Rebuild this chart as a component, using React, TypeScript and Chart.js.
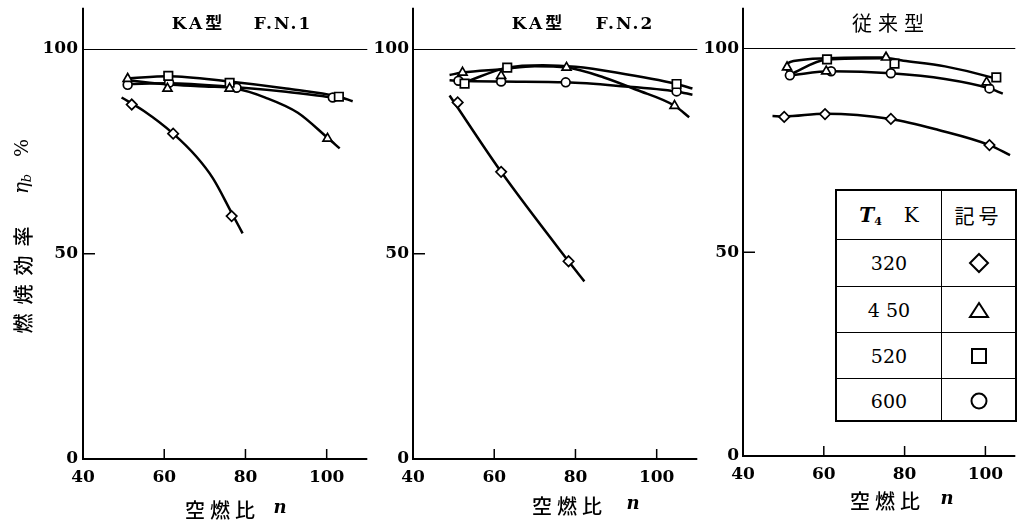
import React, { useEffect, useRef } from 'react';
import { Chart, registerables } from 'chart.js';

Chart.register(...registerables);

// ---------- axis ticks / labels ----------
const xTickValues = [40, 60, 80, 100];
const yTickValues = [0, 50, 100];
const temperatureLabels = ['320', '4 50', '520', '600'];
const symbolKinds = ['diamond', 'triangle', 'square', 'circle'];

// ---------- KA型 F.N.1 : measured points ----------
const fn1_320_n = [52, 62.2, 76.6];
const fn1_320_eta = [86.4, 79.3, 59.2];
const fn1_450_n = [51, 60.8, 76.1, 100.2];
const fn1_450_eta = [92.7, 90.3, 90.3, 78.1];
const fn1_520_n = [61, 76.1, 103];
const fn1_520_eta = [93.4, 91.7, 88.3];
const fn1_600_n = [51, 61.2, 77.8, 101.5];
const fn1_600_eta = [91.2, 91.7, 90.5, 88.1];
// faired curves
const fn1c_320_n = [49.5, 55, 62.2, 68, 72, 76.6, 79.3];
const fn1c_320_eta = [88.1, 84.8, 79.3, 73.6, 68.4, 60, 55];
const fn1c_450_n = [51, 61, 70, 77.6, 84.9, 92.9, 100.2, 103.2];
const fn1c_450_eta = [92.3, 91.3, 90.8, 90.3, 88.1, 84.4, 78.3, 75.7];
const fn1c_520_n = [51, 61, 76, 90, 103, 106.4];
const fn1c_520_eta = [92.8, 93.3, 92, 90.3, 88.3, 87.2];
const fn1c_600_n = [51, 61.2, 77.8, 90, 101.5];
const fn1c_600_eta = [91.4, 91.6, 90.6, 89.5, 88.1];

// ---------- KA型 F.N.2 : measured points ----------
const fn2_320_n = [51, 61.7, 78.3];
const fn2_320_eta = [86.9, 70, 48.2];
const fn2_450_n = [52.2, 61.7, 77.8, 104.4];
const fn2_450_eta = [94.2, 93.4, 95.4, 86.1];
const fn2_520_n = [52.7, 63.2, 104.9];
const fn2_520_eta = [91.5, 95.4, 91.4];
const fn2_600_n = [51.2, 61.7, 77.6, 104.9];
const fn2_600_eta = [92.2, 92, 91.8, 89.6];
// faired curves
const fn2c_320_n = [49, 61.7, 78.3, 82.2];
const fn2c_320_eta = [88.6, 70, 48.2, 43.3];
const fn2c_450_n = [49, 52.2, 61.7, 70, 77.8, 87, 95, 104.4, 108];
const fn2c_450_eta = [93.6, 94.2, 95, 95.7, 95.4, 93, 90, 86.1, 83.3];
const fn2c_520_n = [52.7, 63.2, 72, 80, 90, 104.9, 108.8];
const fn2c_520_eta = [91.8, 95.4, 96, 95.6, 94.2, 91.4, 90.3];
const fn2c_600_n = [49, 51.2, 61.7, 77.6, 90, 104.9, 108.8];
const fn2c_600_eta = [92.3, 92.2, 92, 91.8, 91, 89.6, 88.8];

// ---------- 従来型 : measured points ----------
const cv_320_n = [50.2, 60.3, 76.6, 101];
const cv_320_eta = [83.2, 83.9, 82.7, 76.3];
const cv_450_n = [50.9, 60.6, 75.4, 100.3];
const cv_450_eta = [95.4, 94.4, 97.8, 91.7];
const cv_520_n = [60.8, 77.5, 102.7];
const cv_520_eta = [97.3, 96.3, 92.9];
const cv_600_n = [51.6, 61.8, 76.6, 101];
const cv_600_eta = [93.4, 94.4, 93.9, 90.2];
// faired curves
const cvc_320_n = [47.3, 50.2, 60.3, 76.6, 88.4, 101, 106.1];
const cvc_320_eta = [83.4, 83.3, 84, 82.7, 80, 76.3, 73.8];
const cvc_450_n = [51.6, 50.6, 52.5, 60.8, 75.4];
const cvc_450_eta = [93.4, 95.6, 96.9, 97.6, 97.8];
const cvc_520_n = [51.6, 60.8, 75.4, 79.7, 90, 101.5, 102.7];
const cvc_520_eta = [93.6, 97.3, 97.6, 97, 95.6, 92.9, 92.5];
const cvc_600_n = [51.6, 61.8, 76.6, 90, 101, 104.3];
const cvc_600_eta = [93.4, 94.4, 93.9, 92.5, 90.2, 88.9];

// ---------- helpers ----------
const SERIF = '"DejaVu Serif", "Liberation Serif", "Noto Sans CJK JP", serif';
const CJK = '"Noto Sans CJK JP", "Noto Sans CJK SC", sans-serif';

const pts = (ns: number[], es: number[]) => ns.map((x, i) => ({ x, y: es[i] }));

const markerStyle: Record<string, { style: any; r: number }> = {
  '320': { style: 'rectRot', r: 5.2 },
  '450': { style: 'triangle', r: 5.2 },
  '520': { style: 'rect', r: 6 },
  '600': { style: 'circle', r: 4.4 },
};

function markerSet(key: string, ns: number[], es: number[]) {
  const m = markerStyle[key];
  return {
    label: key,
    data: pts(ns, es),
    showLine: false,
    pointStyle: m.style,
    pointRadius: m.r,
    pointBackgroundColor: '#fff',
    pointBorderColor: '#000',
    pointBorderWidth: 1.7,
    order: 0,
  };
}

function curveSet(ns: number[], es: number[], loop = false) {
  return {
    data: pts(ns, es),
    showLine: true,
    borderColor: '#000',
    borderWidth: 2.5,
    pointRadius: 0,
    tension: loop ? 0.4 : 0,
    cubicInterpolationMode: loop ? 'default' : 'monotone',
    fill: false,
    order: 1,
  };
}

type PanelCfg = {
  key: string;
  left: number;
  width: number;
  yAxisWidth: number;
  padRight: number;
  padTop: number;
  xAxisHeight: number;
  xMax: number;
  yLabelPad: number;
  title: { text: string; dx: number; size: number; spacing: number; font: string }[];
  titleY: number;
  xTitleDx: number;
  nDx: number;
  xTitleY: number;
  showYTitle: boolean;
  datasets: any[];
};

function makeDecor(cfg: PanelCfg) {
  return {
    id: 'panelDecor_' + cfg.key,
    beforeDatasetsDraw(chart: any) {
      const { ctx, chartArea: a, scales } = chart;
      const x = scales.x;
      const y = scales.y;
      ctx.save();
      ctx.strokeStyle = '#000';
      // 100 % reference line
      ctx.lineWidth = 1.2;
      const y100 = Math.round(y.getPixelForValue(100)) + 0.5;
      ctx.beginPath();
      ctx.moveTo(a.left, y100);
      ctx.lineTo(a.right, y100);
      ctx.stroke();
      // axes
      ctx.lineWidth = 2;
      ctx.beginPath();
      ctx.moveTo(a.left, a.top);
      ctx.lineTo(a.left, a.bottom);
      ctx.lineTo(a.right, a.bottom);
      ctx.stroke();
      // inward ticks
      ctx.lineWidth = 1.5;
      ctx.beginPath();
      const y50 = y.getPixelForValue(50);
      ctx.moveTo(a.left, y50);
      ctx.lineTo(a.left + 12, y50);
      for (const v of xTickValues) {
        if (v <= 40) continue;
        const px = x.getPixelForValue(v);
        ctx.moveTo(px, a.bottom);
        ctx.lineTo(px, a.bottom - 10);
      }
      ctx.stroke();
      ctx.restore();
    },
    afterDraw(chart: any) {
      const { ctx, chartArea: a } = chart;
      ctx.save();
      ctx.fillStyle = '#000';
      ctx.textAlign = 'center';
      ctx.textBaseline = 'middle';
      // panel title
      for (const t of cfg.title) {
        ctx.font = `${t.size}px ${t.font}`;
        (ctx as any).letterSpacing = `${t.spacing}px`;
        ctx.fillText(t.text, a.left + t.dx + t.spacing / 2, cfg.titleY);
      }
      // x-axis title
      ctx.font = `500 20px ${CJK}`;
      (ctx as any).letterSpacing = '5px';
      ctx.fillText('空燃比', a.left + cfg.xTitleDx + 2.5, cfg.xTitleY);
      (ctx as any).letterSpacing = '0px';
      ctx.font = `italic bold 18px ${SERIF}`;
      ctx.fillText('n', a.left + cfg.nDx, cfg.xTitleY - 2);
      // y-axis title
      if (cfg.showYTitle) {
        const cx = 23;
        const drawRot = (fn: () => void, cy: number) => {
          ctx.save();
          ctx.translate(cx, cy);
          ctx.rotate(-Math.PI / 2);
          fn();
          ctx.restore();
        };
        drawRot(() => {
          ctx.font = `500 20px ${CJK}`;
          (ctx as any).letterSpacing = '9px';
          ctx.fillText('燃焼効率', 4.5, 0);
          (ctx as any).letterSpacing = '0px';
        }, 280);
        drawRot(() => {
          ctx.font = `italic 20px ${SERIF}`;
          ctx.fillText('η', -4, 0);
          ctx.font = `italic 13px ${SERIF}`;
          ctx.fillText('b', 6, 5);
        }, 184);
        drawRot(() => {
          ctx.font = `19px ${SERIF}`;
          ctx.fillText('%', 0, 0);
        }, 148);
      }
      ctx.restore();
    },
  };
}

function Panel({ cfg }: { cfg: PanelCfg }) {
  const ref = useRef<HTMLCanvasElement>(null);
  useEffect(() => {
    if (!ref.current) return;
    const tickFont = { family: SERIF, size: 17, weight: 'bold' };
    const chart = new Chart(ref.current, {
      type: 'scatter',
      data: { datasets: cfg.datasets },
      options: {
        responsive: false,
        animation: false,
        devicePixelRatio: 1,
        layout: { padding: { left: 0, right: cfg.padRight, top: cfg.padTop, bottom: 0 } },
        plugins: { legend: { display: false }, tooltip: { enabled: false }, title: { display: false } },
        scales: {
          x: {
            type: 'linear',
            position: 'bottom',
            min: 40,
            max: cfg.xMax,
            afterBuildTicks: (s: any) => {
              s.ticks = xTickValues.map((v) => ({ value: v }));
            },
            afterFit: (s: any) => {
              s.height = cfg.xAxisHeight;
              s.paddingLeft = 0;
              s.paddingRight = 0;
            },
            grid: { display: false, drawTicks: false },
            border: { display: false },
            ticks: { font: tickFont, color: '#000', padding: 8, maxRotation: 0, autoSkip: false },
          },
          y: {
            type: 'linear',
            position: 'left',
            min: 0,
            max: 110,
            afterBuildTicks: (s: any) => {
              s.ticks = yTickValues.map((v) => ({ value: v }));
            },
            afterFit: (s: any) => {
              s.width = cfg.yAxisWidth;
              s.paddingTop = 0;
              s.paddingBottom = 0;
            },
            grid: { display: false, drawTicks: false },
            border: { display: false },
            ticks: { font: tickFont, color: '#000', padding: cfg.yLabelPad, autoSkip: false },
          },
        },
      } as any,
      plugins: [makeDecor(cfg)],
    });
    return () => chart.destroy();
  }, [cfg]);
  return (
    <canvas
      ref={ref}
      width={cfg.width}
      height={528}
      style={{ position: 'absolute', left: cfg.left, top: 0, display: 'block' }}
    />
  );
}

const kaTitle = (num: string) => [
  { text: 'KA型', dx: 0, size: 17, spacing: 3, font: `bold ${SERIF}` },
  { text: 'F.N.' + num, dx: 0, size: 17, spacing: 2, font: `bold ${SERIF}` },
];

const panel1: PanelCfg = {
  key: 'fn1',
  left: 0,
  width: 375,
  yAxisWidth: 83,
  padRight: 5,
  padTop: 7,
  xAxisHeight: 69,
  xMax: 110,
  yLabelPad: 5,
  title: kaTitle('1').map((t, i) => ({ ...t, dx: i === 0 ? 114 : 199 })),
  titleY: 25,
  xTitleDx: 137,
  nDx: 197,
  xTitleY: 510,
  showYTitle: true,
  datasets: [
    markerSet('320', fn1_320_n, fn1_320_eta),
    markerSet('450', fn1_450_n, fn1_450_eta),
    markerSet('520', fn1_520_n, fn1_520_eta),
    markerSet('600', fn1_600_n, fn1_600_eta),
    curveSet(fn1c_320_n, fn1c_320_eta),
    curveSet(fn1c_450_n, fn1c_450_eta),
    curveSet(fn1c_520_n, fn1c_520_eta),
    curveSet(fn1c_600_n, fn1c_600_eta),
  ],
};

const panel2: PanelCfg = {
  key: 'fn2',
  left: 340,
  width: 365,
  yAxisWidth: 73,
  padRight: 5,
  padTop: 7,
  xAxisHeight: 69,
  xMax: 110,
  yLabelPad: 4,
  title: kaTitle('2').map((t, i) => ({ ...t, dx: i === 0 ? 124 : 211 })),
  titleY: 25,
  xTitleDx: 154,
  nDx: 220,
  xTitleY: 506,
  showYTitle: false,
  datasets: [
    markerSet('320', fn2_320_n, fn2_320_eta),
    markerSet('450', fn2_450_n, fn2_450_eta),
    markerSet('520', fn2_520_n, fn2_520_eta),
    markerSet('600', fn2_600_n, fn2_600_eta),
    curveSet(fn2c_320_n, fn2c_320_eta),
    curveSet(fn2c_450_n, fn2c_450_eta),
    curveSet(fn2c_520_n, fn2c_520_eta),
    curveSet(fn2c_600_n, fn2c_600_eta),
  ],
};

const panel3: PanelCfg = {
  key: 'cv',
  left: 690,
  width: 333,
  yAxisWidth: 53,
  padRight: 2,
  padTop: 5,
  xAxisHeight: 72,
  xMax: 107.4,
  yLabelPad: 4,
  title: [{ text: '従来型', dx: 145, size: 20, spacing: 6, font: `500 ${CJK}`.replace('500 ', '') }],
  titleY: 23,
  xTitleDx: 142,
  nDx: 204,
  xTitleY: 501,
  showYTitle: false,
  datasets: [
    markerSet('320', cv_320_n, cv_320_eta),
    markerSet('450', cv_450_n, cv_450_eta),
    markerSet('520', cv_520_n, cv_520_eta),
    markerSet('600', cv_600_n, cv_600_eta),
    curveSet(cvc_320_n, cvc_320_eta),
    curveSet(cvc_450_n, cvc_450_eta, true),
    curveSet(cvc_520_n, cvc_520_eta),
    curveSet(cvc_600_n, cvc_600_eta),
  ],
};

function Symbol({ kind }: { kind: string }) {
  const common = { fill: 'none', stroke: '#000', strokeWidth: 2 } as any;
  return (
    <svg width={24} height={24} viewBox="0 0 24 24" style={{ display: 'block' }}>
      {kind === 'diamond' && <polygon points="12,3 21,12 12,21 3,12" {...common} />}
      {kind === 'triangle' && <polygon points="12,5 21,19 3,19" {...common} />}
      {kind === 'square' && <rect x={5} y={5} width={14} height={14} {...common} />}
      {kind === 'circle' && <circle cx={12} cy={12} r={7.5} {...common} />}
    </svg>
  );
}

function LegendTable() {
  const rowHeights = [49, 47, 46, 46, 43];
  const cellBase: React.CSSProperties = {
    display: 'flex',
    alignItems: 'center',
    justifyContent: 'center',
    boxSizing: 'border-box',
    color: '#000',
  };
  return (
    <div
      style={{
        position: 'absolute',
        left: 835,
        top: 189,
        width: 182,
        height: 233,
        border: '2px solid #000',
        boxSizing: 'border-box',
        background: '#fff',
        display: 'grid',
        gridTemplateColumns: '105px 1fr',
        gridTemplateRows: rowHeights.map((h) => h + 'px').join(' '),
      }}
    >
      <div style={{ ...cellBase, borderRight: '1.5px solid #000', borderBottom: '1.5px solid #000', fontFamily: SERIF, fontSize: 20 }}>
        <span style={{ fontStyle: 'italic', fontWeight: 'bold' }}>T</span>
        <span style={{ fontSize: 11, fontWeight: 'bold', position: 'relative', top: 6 }}>4</span>
        <span style={{ marginLeft: 22 }}>K</span>
      </div>
      <div style={{ ...cellBase, borderBottom: '1.5px solid #000', fontFamily: CJK, fontSize: 20, letterSpacing: 4 }}>記号</div>
      {temperatureLabels.map((t, i) => (
        <React.Fragment key={t}>
          <div
            style={{
              ...cellBase,
              borderRight: '1.5px solid #000',
              borderBottom: i < temperatureLabels.length - 1 ? '1.5px solid #000' : 'none',
              fontFamily: SERIF,
              fontSize: 19,
              whiteSpace: 'pre',
            }}
          >
            {t}
          </div>
          <div
            style={{
              ...cellBase,
              borderBottom: i < temperatureLabels.length - 1 ? '1.5px solid #000' : 'none',
            }}
          >
            <Symbol kind={symbolKinds[i]} />
          </div>
        </React.Fragment>
      ))}
    </div>
  );
}

export default function App() {
  return (
    <div
      style={{
        position: 'absolute',
        left: 0,
        top: 0,
        width: 1023,
        height: 528,
        background: '#fff',
        overflow: 'hidden',
      }}
    >
      <Panel cfg={panel1} />
      <Panel cfg={panel2} />
      <Panel cfg={panel3} />
      <LegendTable />
    </div>
  );
}
